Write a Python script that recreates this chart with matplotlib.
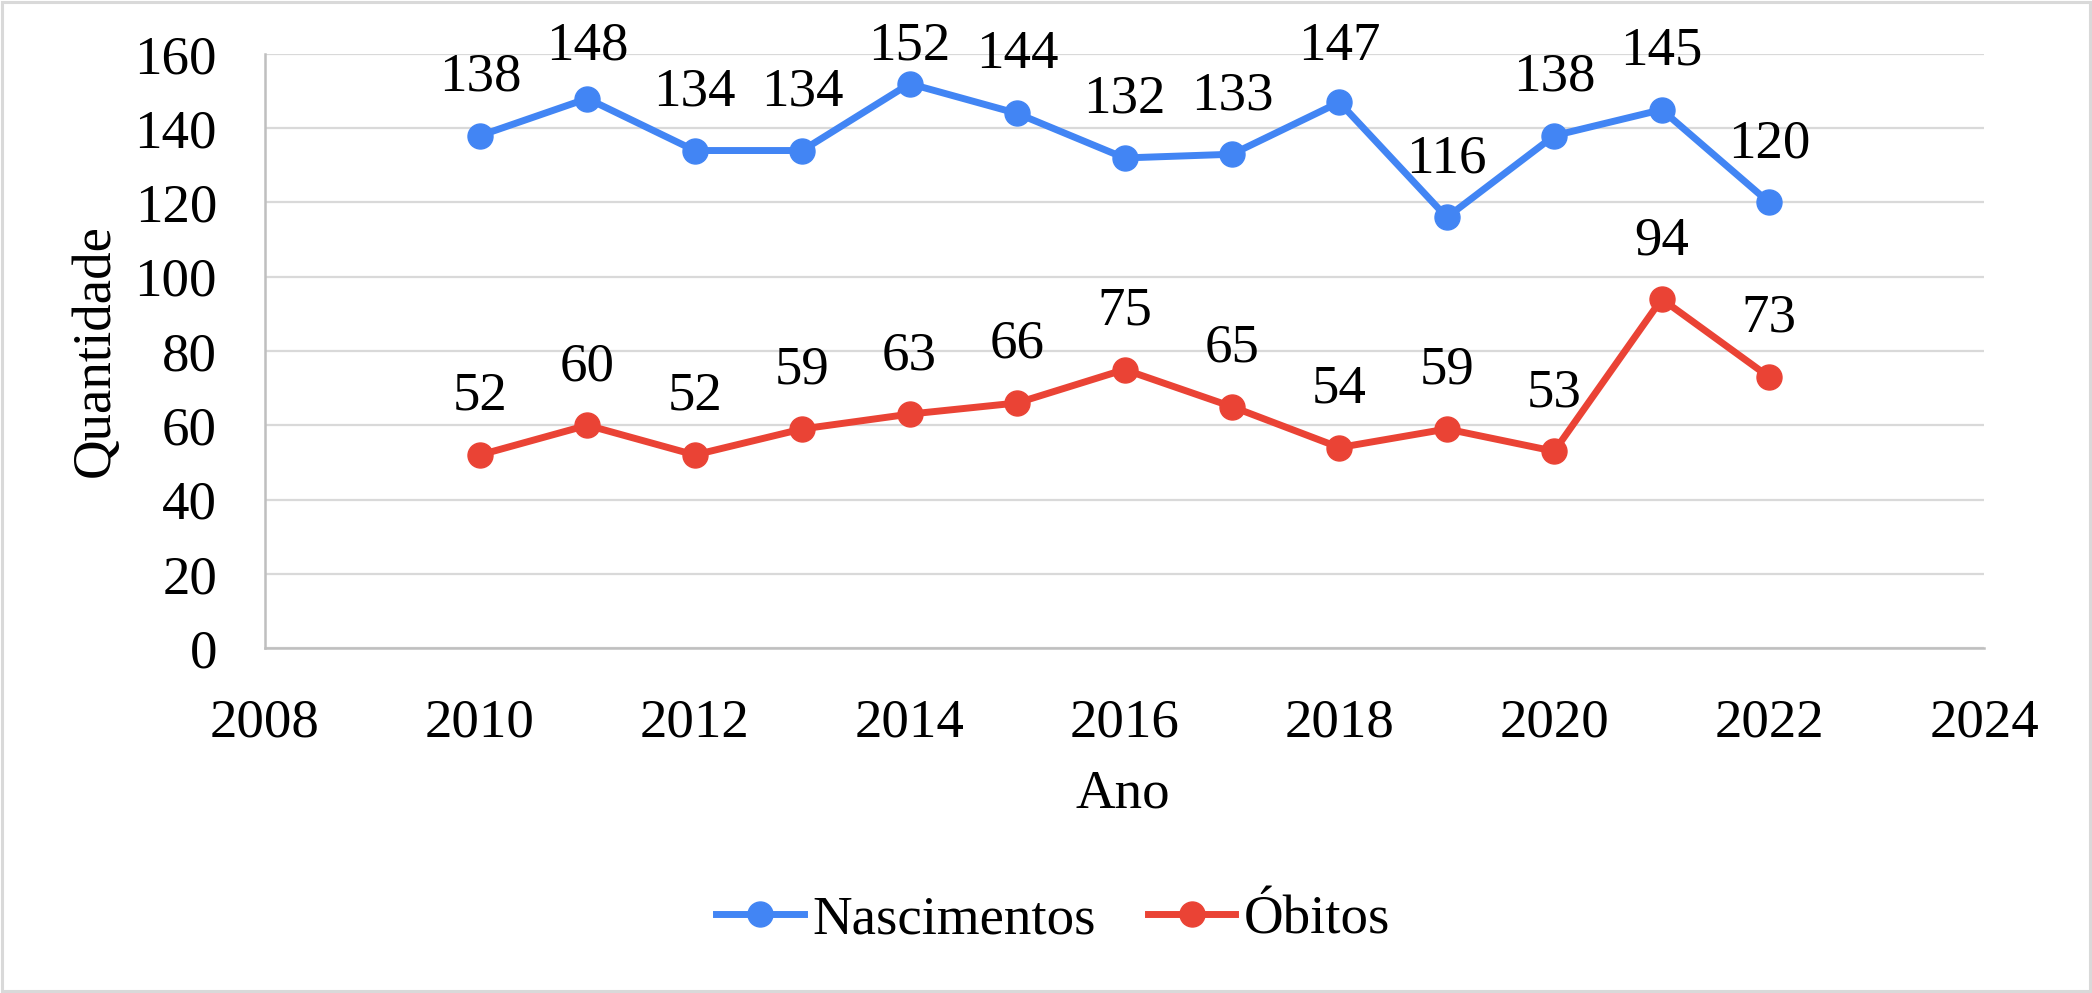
import matplotlib
matplotlib.use("Agg")
import matplotlib.pyplot as plt
from matplotlib.patches import Rectangle

plt.rcParams['font.family'] = ['Liberation Serif', 'DejaVu Serif']

anos = [2010, 2011, 2012, 2013, 2014, 2015, 2016, 2017, 2018, 2019, 2020, 2021, 2022]
nascimentos = [138, 148, 134, 134, 152, 144, 132, 133, 147, 116, 138, 145, 120]
obitos = [52, 60, 52, 59, 63, 66, 75, 65, 54, 59, 53, 94, 73]
xticks = [2008, 2010, 2012, 2014, 2016, 2018, 2020, 2022, 2024]
yticks = [0, 20, 40, 60, 80, 100, 120, 140, 160]

azul = '#4285F4'
vermelho = '#EA4335'
fs = 39.5
DPI = 100

fig = plt.figure(figsize=(20.92, 9.93), dpi=DPI)
ax = fig.add_axes([265/2092, 1-648/993, (1984-265)/2092, (648-54)/993])

ax.plot(anos, nascimentos, color=azul, lw=5, marker='o', ms=18, label='Nascimentos', zorder=3)
ax.plot(anos, obitos, color=vermelho, lw=5, marker='o', ms=18, label='Óbitos', zorder=3)

ax.set_xlim(2008, 2024)
ax.set_ylim(0, 160)

# rótulos acima dos pontos, empurrados para baixo se saírem da área do gráfico
H = fig.get_figheight() * DPI
limite = H - 59.5
for serie in [nascimentos, obitos]:
    for x, y in zip(anos, serie):
        yd = ax.transData.transform((x, y))[1]
        off_px = min(45, limite - yd)
        ax.annotate(str(y), (x, y), xytext=(0, off_px * 72 / DPI), textcoords='offset points',
                    ha='center', va='baseline', fontsize=fs, annotation_clip=False)

ax.set_xticks(xticks)
ax.set_yticks(yticks)
ax.tick_params(axis='both', length=0, labelsize=fs)
ax.tick_params(axis='x', pad=36)
ax.tick_params(axis='y', pad=34.5)
ax.grid(axis='y', color='#d9d9d9', lw=1.6)
ax.set_axisbelow(True)
for s in ['top', 'right']:
    ax.spines[s].set_visible(False)
for s in ['left', 'bottom']:
    ax.spines[s].set_color('#bfbfbf')
    ax.spines[s].set_linewidth(1.8)
    ax.spines[s].set_zorder(2.5)

fig.text(95/2092, 1-351/993, 'Quantidade', rotation=90, ha='center', va='center', fontsize=fs)
fig.text(1123/2092, 1-807/993, 'Ano', ha='center', va='baseline', fontsize=fs)

fig.legend(loc='center', bbox_to_anchor=(1053/2092, 1-920/993), ncol=2, frameon=False,
           fontsize=fs, handlelength=1.6, handletextpad=0.15, columnspacing=0.95)

fig.patches.append(Rectangle((0.001, 0.002), 0.998, 0.996, transform=fig.transFigure,
                             fill=False, edgecolor='#d9d9d9', lw=2.2))

fig.savefig('out.png', dpi=DPI)
